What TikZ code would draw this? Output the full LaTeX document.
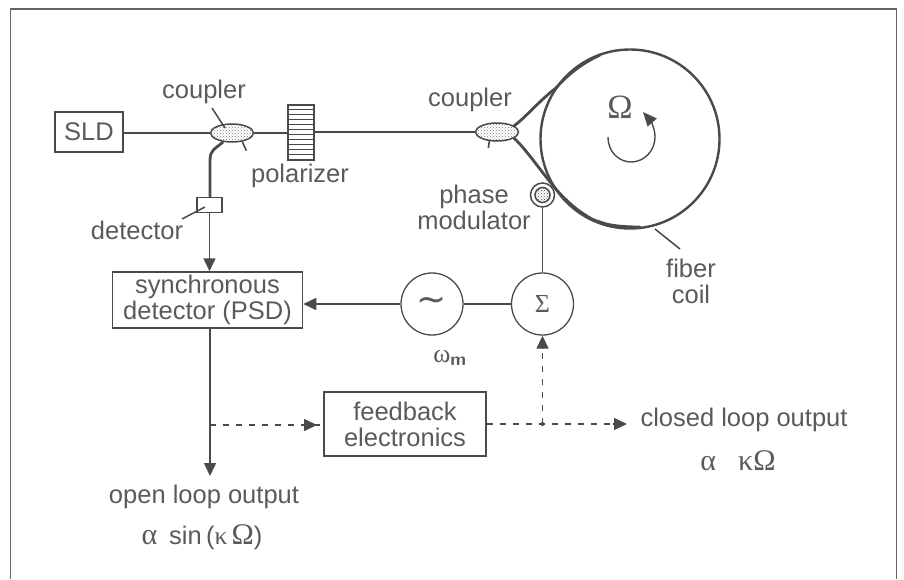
\documentclass[tikz,border=0pt]{standalone}
\usepackage{fontspec}
\setmainfont{Liberation Sans}
\newfontfamily\grk{Liberation Serif}
\newfontfamily\djv{DejaVu Sans}
\usetikzlibrary{shapes.geometric,patterns,arrows.meta}
\definecolor{ink}{HTML}{4A4A4A}
\definecolor{txt}{HTML}{5A5A5A}
\tikzset{
 lbl/.style={text=txt,font=\fontsize{25.5}{26}\selectfont,inner sep=0pt,align=center},
 boxn/.style={draw=ink,line width=1.5pt,inner sep=0pt,lbl},
 circn/.style={draw=ink,line width=1.3pt,circle,inner sep=0pt,minimum size=62pt,text=txt},
 fib/.style={draw=ink,line width=2.8pt},
 thin wire/.style={draw=ink,line width=1.5pt},
 arr/.style={-{Triangle[length=13pt,width=12pt]}},
 dash wire/.style={draw=ink,line width=1.2pt,dash pattern=on 6pt off 7pt},
 coup/.style={ellipse,draw=ink,line width=1.5pt,minimum width=43pt,minimum height=18pt,inner sep=0pt,pattern=crosshatch dots,pattern color=gray},
 ptr/.style={draw=ink,line width=1.5pt},
}
\begin{document}
\begin{tikzpicture}[x=1pt,y=-1pt]
\useasboundingbox (0,0) rectangle (904,579);
% frame
\coordinate (fbl) at (10.5,579); \coordinate (ftl) at (10.5,9); \coordinate (ftr) at (896.5,9); \coordinate (fbr) at (896.5,579);
\draw[ink!85,line width=1.6pt] (fbl)--(ftl)--(ftr)--(fbr);
% boxes
\node[boxn,minimum width=68pt,minimum height=40pt] (sld) at (89,132) {SLD};
\node[boxn,minimum width=190pt,minimum height=56pt] (psd) at (207.5,300) {synchronous\\detector (PSD)};
\node[boxn,minimum width=162pt,minimum height=64pt] (fb) at (405,424) {feedback\\electronics};
\node[draw=ink,line width=1.3pt,minimum width=25pt,minimum height=15pt,inner sep=0pt] (det) at (209.5,205) {};
\node[circn] (osc) at (432,304) {\fontsize{36}{36}\selectfont\djv\char"223C};
\node[circn] (sum) at (542.5,304) {\fontsize{26}{26}\selectfont\grk Σ};
% coil
\node[circle,draw=ink,line width=2.4pt,minimum width=179pt,inner sep=0pt] (coil) at (630,139) {};
% couplers
\node[coup] (c1) at (232,133) {};
\node[coup] (c2) at (497,132) {};
% polarizer
\node[draw=ink,line width=1.5pt,fill=white,minimum width=26pt,minimum height=55pt,inner sep=0pt] (pol) at (301,132.5) {};
\foreach \yy in {1,...,10} \draw[ink,line width=1pt] ([yshift=-\yy*5pt]pol.north west) -- ([yshift=-\yy*5pt]pol.north east);
% fibres
\draw[fib] (sld.east |- c1.west) -- (c1.west);
\draw[fib,line width=2.2pt] (c1.east) -- (pol.west |- c1.east);
\draw[fib,line width=2.2pt] (pol.east |- c2.west) -- (c2.west);
\coordinate (t1) at (556,88);
\coordinate (t2) at (600,222);
\draw[fib,line cap=round] (c2.20) .. controls (525,118) and (540,100) .. (t1) .. controls (570,72) and (585,62) .. (600,55);
\draw[fib,line cap=round] (c2.-20) .. controls (525,148) and (540,170) .. (555,188) .. controls (570,206) and (590,220) .. (t2) .. controls (610,226) and (625,227) .. (640,227);
\draw[fib] (c1.-135) .. controls (215,149) and (210,150) .. (210,160) -- (det.north -| 210,0);
\draw[ink,line width=1.6pt] (c1.-40) -- ++(4,9);
\draw[ink,line width=1.6pt] (c2.-130) -- ++(-1,7);
% modulator
\node[circle,draw=ink,line width=1.5pt,fill=white,minimum size=24pt,inner sep=0pt] (pm) at (542.5,195) {};
\node[circle,draw=ink,line width=1.5pt,pattern=crosshatch dots,pattern color=ink,minimum size=15pt,inner sep=0pt] (pmi) at (pm) {};
% wires
\draw[thin wire,arr] (det.south) -- (psd.north -| det.south);
\draw[thin wire] (sum.north) -- (pm.south);
\draw[thin wire] (osc.east) -- (sum.west);
\draw[thin wire,arr] (osc.west) -- (psd.east |- osc.west);
\coordinate (outo) at (210,476);
\draw[thin wire,arr] (psd.south -| outo) -- (outo);
\coordinate (tap1) at (210,425);
\coordinate (tap2) at (542.5,424);
\coordinate (oute) at (627,424);
\draw[dash wire] (tap1) -- (fb.west |- tap1);
\coordinate (a1s) at (304,425);
\coordinate (a1e) at (317,425);
\draw[thin wire,arr] (a1s) -- (a1e);
\draw[dash wire] (fb.east |- tap2) -- (oute);
\draw[dash wire] (tap2) -- (sum.south);
\draw[thin wire,arr] ([yshift=-13pt]sum.south) -- (sum.south);
\coordinate (a2s) at (613,424);
\draw[thin wire,arr] (a2s) -- (oute);
\fill[ink] (tap2) circle (2pt);
% rotation
\coordinate (r0) at (608,137);
\coordinate (r1) at (643,112);
\draw[ink,line width=1.4pt,-{Triangle[length=14pt,width=12pt]}] (r0) .. controls (608,153) and (620,162) .. (631,162) .. controls (645,162) and (655,150) .. (655,137) .. controls (655,128) and (650,120) .. (r1);
\node[text=txt,font=\fontsize{34}{34}\selectfont\grk,inner sep=0pt] (om) at (620,107) {Ω};
% labels
\node[lbl] (lc1) at (204,92) {coupler};
\node[lbl] (lc2) at (470,100) {coupler};
\node[lbl] (lpol) at (300,176) {polarizer};
\node[lbl] (ldet) at (137,230) {detector};
\node[lbl] (lpm) at (474,207) {phase\\modulator};
\node[lbl] (lfc) at (691,281) {fiber\\coil};
\node[lbl,font=\fontsize{26}{26}\selectfont\grk] (lw) at (450,358) {ω\textsubscript{\normalfont\sffamily\bfseries m}};
\node[lbl] (lo1) at (204,497) {open loop output};
\node[lbl] (lo2) at (202,537) {{\fontsize{30}{30}\selectfont\grk α}\hspace{12pt}sin\,({\grk κ}\,{\fontsize{30}{30}\selectfont\grk Ω})};
\node[lbl] (lc3) at (744,420) {closed loop output};
\node[lbl] (lc4) at (738,461) {{\fontsize{30}{30}\selectfont\grk α}\hspace{22pt}{\fontsize{30}{30}\selectfont\grk κΩ}};
% pointers
\coordinate (p1) at (212,108); \coordinate (p1e) at (225,128);
\draw[ptr] (p1) -- (p1e);
\coordinate (p2) at (182,219); \coordinate (p2e) at (205,207);
\draw[ptr] (p2) -- (p2e);
\coordinate (p3) at (655,229); \coordinate (p3e) at (680,249);
\draw[ptr] (p3) -- (p3e);
\end{tikzpicture}
\end{document}
